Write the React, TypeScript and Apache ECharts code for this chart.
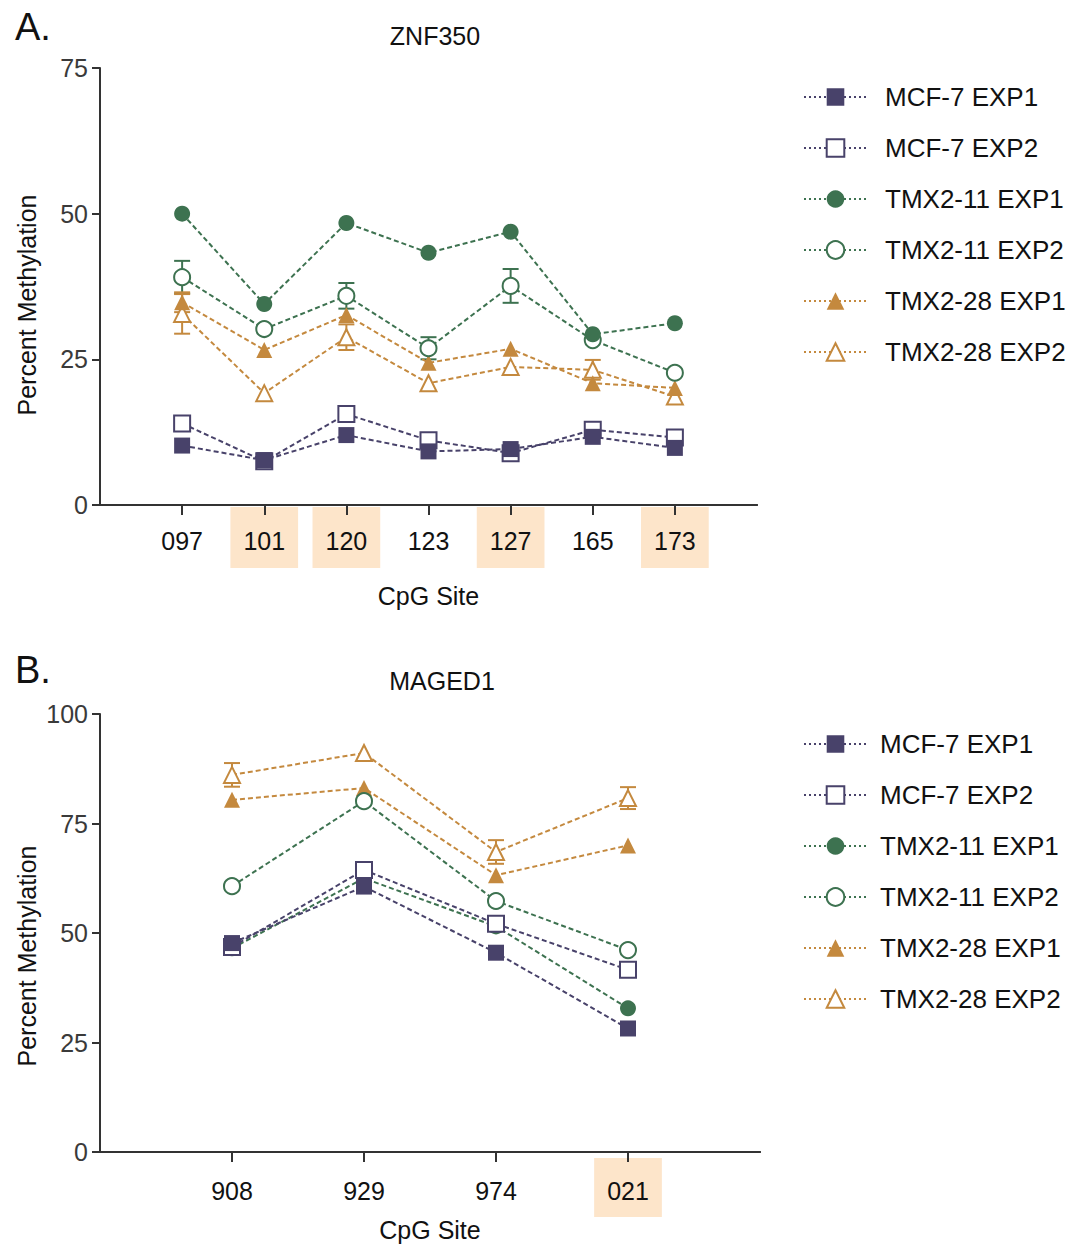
import React, { useEffect, useRef } from "react";
import * as echarts from "echarts";

// ---------- data ----------
const seriesNames = [
  "MCF-7 EXP1",
  "MCF-7 EXP2",
  "TMX2-11 EXP1",
  "TMX2-11 EXP2",
  "TMX2-28 EXP1",
  "TMX2-28 EXP2",
];

// Panel A – ZNF350
const sitesA = ["097", "101", "120", "123", "127", "165", "173"];
const highlightA = ["101", "120", "127", "173"];
const mcf7Exp1A = [10.2, 7.7, 12.0, 9.2, 9.6, 11.7, 9.8];
const mcf7Exp2A = [14.0, 7.5, 15.6, 11.1, 8.9, 12.9, 11.6];
const tmx11Exp1A = [50.0, 34.5, 48.4, 43.3, 46.9, 29.3, 31.2];
const tmx11Exp2A = [39.1, 30.2, 35.9, 26.9, 37.6, 28.3, 22.7];
const tmx28Exp1A = [34.8, 26.6, 32.6, 24.4, 26.8, 20.9, 20.1];
const tmx28Exp2A = [32.8, 19.2, 28.8, 20.9, 23.7, 23.2, 18.6];
const errTmx11Exp2A = [2.8, 0, 2.2, 1.9, 2.9, 0, 0];
const errTmx28Exp1A = [1.7, 0, 0, 0, 0, 0, 0];
const errTmx28Exp2A = [3.4, 0, 2.2, 0, 0, 1.7, 0];
const yTicksA = [0, 25, 50, 75];

// Panel B – MAGED1
const sitesB = ["908", "929", "974", "021"];
const highlightB = ["021"];
const mcf7Exp1B = [47.7, 60.6, 45.5, 28.2];
const mcf7Exp2B = [46.8, 64.4, 52.1, 41.6];
const tmx11Exp1B = [46.5, 62.5, 51.5, 32.8];
const tmx11Exp2B = [60.7, 80.1, 57.3, 46.1];
const tmx28Exp1B = [80.4, 83.1, 63.2, 70.0];
const tmx28Exp2B = [86.1, 91.1, 68.5, 80.8];
const errTmx28Exp2B = [2.7, 0, 2.7, 2.5];
const yTicksB = [0, 25, 50, 75, 100];

// ---------- styles ----------
const FONT = "'Liberation Sans', Arial, Helvetica, sans-serif";
const PURPLE = "#48426a";
const GREEN = "#3d7250";
const ORANGE = "#c4893e";
const AXIS = "#333333";
const HL = "#fde5ca";

const styleByName: Record<string, { color: string; symbol: string }> = {
  "MCF-7 EXP1": { color: PURPLE, symbol: "rect" },
  "MCF-7 EXP2": { color: PURPLE, symbol: "emptyRect" },
  "TMX2-11 EXP1": { color: GREEN, symbol: "circle" },
  "TMX2-11 EXP2": { color: GREEN, symbol: "emptyCircle" },
  "TMX2-28 EXP1": { color: ORANGE, symbol: "triangle" },
  "TMX2-28 EXP2": { color: ORANGE, symbol: "emptyTriangle" },
};

// drawing order (later = on top)
const drawOrder = [
  "TMX2-28 EXP2",
  "TMX2-28 EXP1",
  "TMX2-11 EXP2",
  "TMX2-11 EXP1",
  "MCF-7 EXP2",
  "MCF-7 EXP1",
];

function lineSeries(name: string, sites: string[], vals: number[], xi: number, yi: number) {
  const s = styleByName[name];
  return {
    type: "line",
    name,
    xAxisIndex: xi,
    yAxisIndex: yi,
    data: sites.map((c, i) => [c, vals[i]]),
    symbol: s.symbol,
    symbolSize: 16,
    z: 3,
    itemStyle: { color: s.color, borderWidth: 2 },
    lineStyle: { color: s.color, width: 2, type: [5, 3] },
  };
}

function errSeries(name: string, sites: string[], vals: number[], errs: number[], xi: number, yi: number) {
  const color = styleByName[name].color;
  const data = sites
    .map((c, i) => [c, vals[i] - errs[i], vals[i] + errs[i], errs[i]])
    .filter((d) => (d[3] as number) > 0);
  return {
    type: "custom",
    name: "err " + name,
    xAxisIndex: xi,
    yAxisIndex: yi,
    z: 2,
    encode: { x: 0, y: [1, 2] },
    data,
    renderItem: (params: any, api: any) => {
      const lo = api.coord([api.value(0), api.value(1)]);
      const hi = api.coord([api.value(0), api.value(2)]);
      const hw = 8;
      const st = { stroke: color, lineWidth: 2 };
      return {
        type: "group",
        children: [
          { type: "line", shape: { x1: lo[0], y1: hi[1], x2: lo[0], y2: lo[1] }, style: st },
          { type: "line", shape: { x1: lo[0] - hw, y1: hi[1], x2: lo[0] + hw, y2: hi[1] }, style: st },
          { type: "line", shape: { x1: lo[0] - hw, y1: lo[1], x2: lo[0] + hw, y2: lo[1] }, style: st },
        ],
      };
    },
  };
}

function xAxes(sites: string[], highlight: string[], grid: number, margin: number, padTop: number, padBot: number, nameGap: number) {
  const cats = ["", ...sites, " "];
  const rich = {
    hl: { backgroundColor: HL, padding: [padTop, 13, padBot, 13], fontSize: 25, lineHeight: 25, color: "#111", fontFamily: FONT },
    n: { padding: [padTop, 13, padBot, 13], fontSize: 25, lineHeight: 25, color: "#111", fontFamily: FONT },
  };
  return [
    {
      type: "category",
      gridIndex: grid,
      data: cats,
      boundaryGap: false,
      position: "bottom",
      axisLine: { lineStyle: { color: AXIS, width: 2 } },
      axisTick: { show: false },
      splitLine: { show: false },
      axisLabel: {
        interval: 0,
        margin,
        formatter: (v: string) => {
          const t = v.trim();
          if (!t) return "";
          return highlight.includes(t) ? `{hl|${t}}` : `{n|${t}}`;
        },
        rich,
      },
      name: "CpG Site",
      nameLocation: "middle",
      nameGap,
      nameTextStyle: { fontSize: 25, color: "#111", fontFamily: FONT },
    },
    {
      type: "category",
      gridIndex: grid,
      data: cats,
      boundaryGap: false,
      position: "bottom",
      z: 5,
      axisLine: { lineStyle: { color: AXIS, width: 2 } },
      axisTick: {
        show: true,
        length: 10,
        interval: (i: number) => i > 0 && i < cats.length - 1,
        lineStyle: { color: AXIS, width: 2 },
      },
      axisLabel: { show: false },
      splitLine: { show: false },
    },
  ];
}

function yAxis(grid: number, ticks: number[]) {
  return {
    type: "value",
    gridIndex: grid,
    min: ticks[0],
    max: ticks[ticks.length - 1],
    interval: ticks[1] - ticks[0],
    axisLine: { show: true, lineStyle: { color: AXIS, width: 2 } },
    axisTick: { show: true, inside: false, length: 8, lineStyle: { color: AXIS, width: 2 } },
    splitLine: { show: false },
    axisLabel: { fontSize: 25, color: "#3a3a3a", margin: 12, fontFamily: FONT },
  };
}

function legend(top: number, padLeft: number) {
  return {
    orient: "vertical",
    left: 803,
    top,
    padding: 0,
    itemWidth: 63,
    itemHeight: 22,
    itemGap: 25,
    selectedMode: false,
    data: seriesNames,
    lineStyle: { type: [2, 3], width: 2 },
    textStyle: { fontSize: 26, color: "#111", fontFamily: FONT, padding: [0, 0, 0, padLeft] },
  };
}

const valsA: Record<string, number[]> = {
  "MCF-7 EXP1": mcf7Exp1A,
  "MCF-7 EXP2": mcf7Exp2A,
  "TMX2-11 EXP1": tmx11Exp1A,
  "TMX2-11 EXP2": tmx11Exp2A,
  "TMX2-28 EXP1": tmx28Exp1A,
  "TMX2-28 EXP2": tmx28Exp2A,
};
const valsB: Record<string, number[]> = {
  "MCF-7 EXP1": mcf7Exp1B,
  "MCF-7 EXP2": mcf7Exp2B,
  "TMX2-11 EXP1": tmx11Exp1B,
  "TMX2-11 EXP2": tmx11Exp2B,
  "TMX2-28 EXP1": tmx28Exp1B,
  "TMX2-28 EXP2": tmx28Exp2B,
};

export default function App() {
  const ref = useRef<HTMLDivElement>(null);
  useEffect(() => {
    if (!ref.current) return;
    const chart = echarts.init(ref.current, undefined, { renderer: "svg" });
    const series: any[] = [
      errSeries("TMX2-11 EXP2", sitesA, tmx11Exp2A, errTmx11Exp2A, 0, 0),
      errSeries("TMX2-28 EXP1", sitesA, tmx28Exp1A, errTmx28Exp1A, 0, 0),
      errSeries("TMX2-28 EXP2", sitesA, tmx28Exp2A, errTmx28Exp2A, 0, 0),
      errSeries("TMX2-28 EXP2", sitesB, tmx28Exp2B, errTmx28Exp2B, 2, 1),
      ...drawOrder.map((n) => lineSeries(n, sitesA, valsA[n], 0, 0)),
      ...drawOrder.map((n) => lineSeries(n, sitesB, valsB[n], 2, 1)),
    ];
    chart.setOption({
      animation: false,
      backgroundColor: "#ffffff",
      textStyle: { fontFamily: FONT },
      title: [
        { text: "A.", left: 10, top: 3, textStyle: { fontSize: 38, fontWeight: "normal", color: "#111", fontFamily: FONT } },
        { text: "ZNF350", left: 430, top: 18, textAlign: "center", textStyle: { fontSize: 25, fontWeight: "normal", color: "#111", fontFamily: FONT } },
        { text: "B.", left: 10, top: 646, textStyle: { fontSize: 38, fontWeight: "normal", color: "#111", fontFamily: FONT } },
        { text: "MAGED1", left: 437, top: 663, textAlign: "center", textStyle: { fontSize: 25, fontWeight: "normal", color: "#111", fontFamily: FONT } },
      ],
      grid: [
        { left: 100, top: 68, width: 657, height: 437 },
        { left: 100, top: 714, width: 660, height: 438 },
      ],
      xAxis: [
        ...xAxes(sitesA, highlightA, 0, 20, 21, 15, 78),
        ...xAxes(sitesB, highlightB, 1, 23, 20, 14, 64),
      ],
      yAxis: [yAxis(0, yTicksA), yAxis(1, yTicksB)],
      legend: [legend(84, 13), legend(731, 8)],
      graphic: [
        {
          type: "text",
          x: 27,
          y: 305,
          rotation: Math.PI / 2,
          style: { text: "Percent Methylation", fontSize: 25, fill: "#111", fontFamily: FONT, textAlign: "center", textVerticalAlign: "middle" },
        },
        {
          type: "text",
          x: 27,
          y: 956,
          rotation: Math.PI / 2,
          style: { text: "Percent Methylation", fontSize: 25, fill: "#111", fontFamily: FONT, textAlign: "center", textVerticalAlign: "middle" },
        },
      ],
      series,
    });
    return () => chart.dispose();
  }, []);
  return <div ref={ref} style={{ position: "absolute", left: 0, top: 0, width: 1075, height: 1245 }} />;
}
